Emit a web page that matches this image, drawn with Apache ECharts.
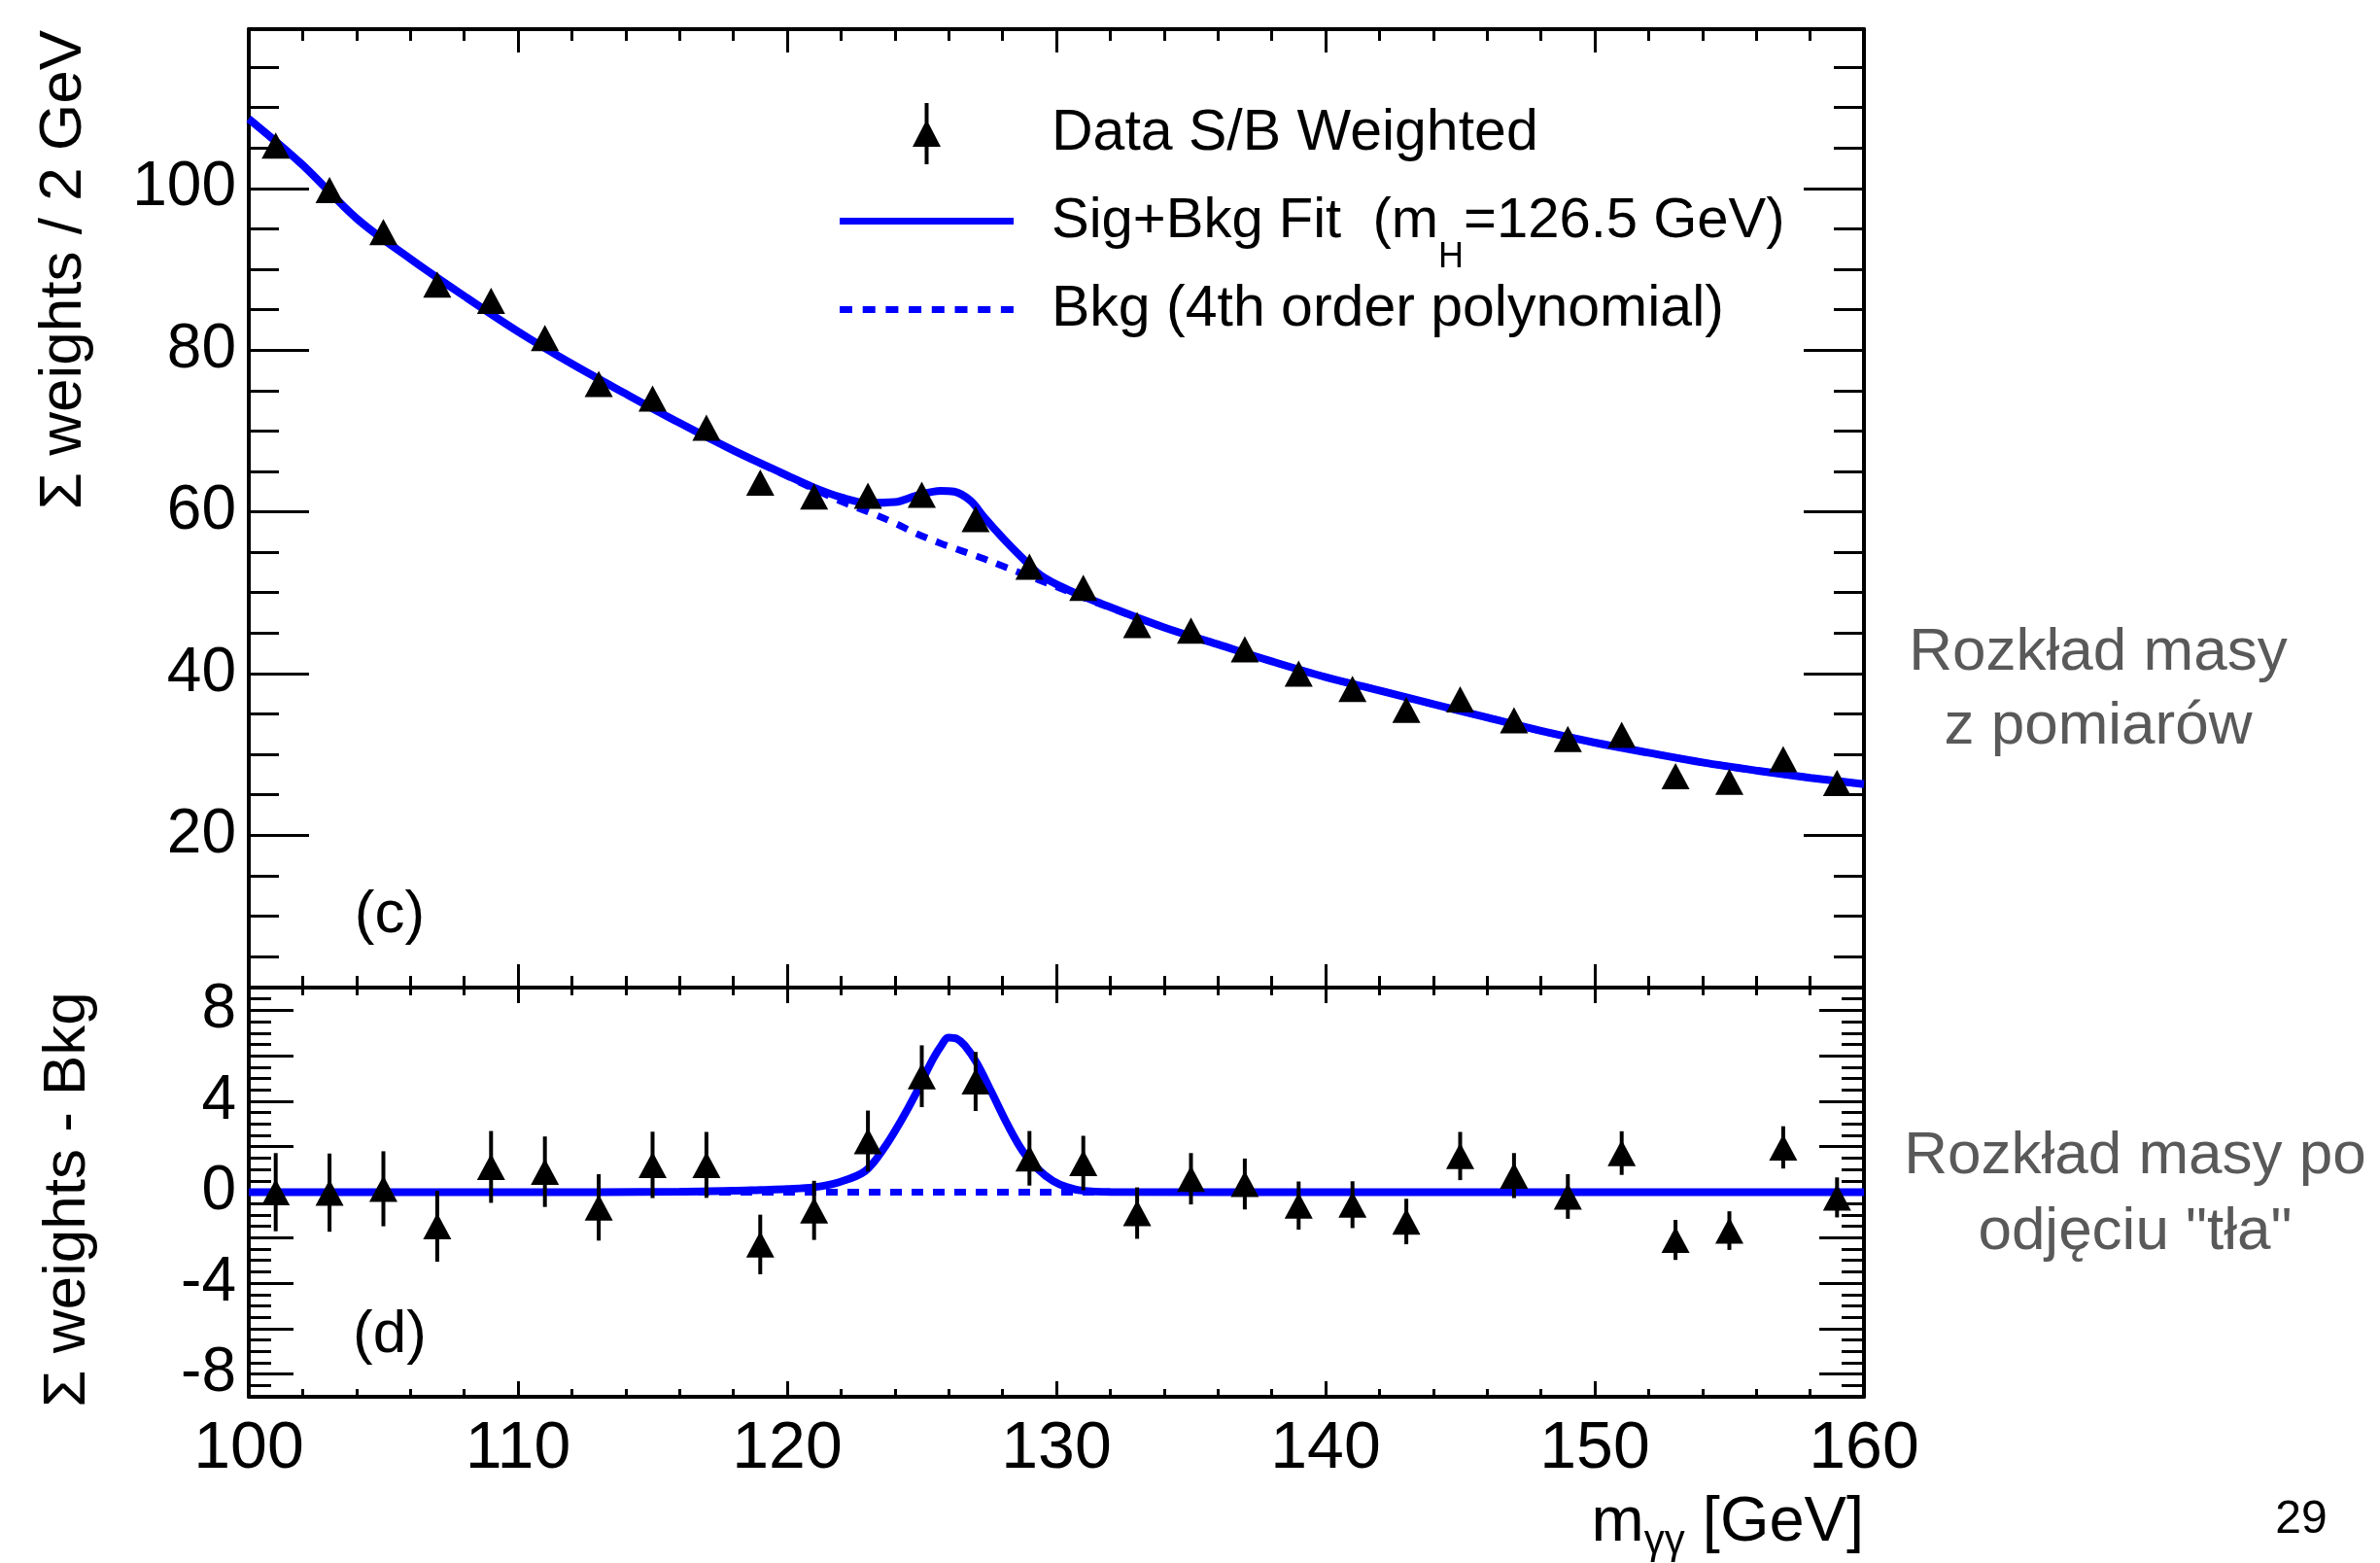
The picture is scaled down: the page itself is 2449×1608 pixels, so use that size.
<!DOCTYPE html>
<html lang="pl">
<head>
<meta charset="utf-8">
<title>m_γγ – Data S/B Weighted</title>
<script src="https://cdn.jsdelivr.net/npm/echarts@6.0.0/dist/echarts.min.js"></script>
<style>
  html, body { margin: 0; padding: 0; background: #fff; }
  #chart { width: 2449px; height: 1608px; }
</style>
</head>
<body>
<div id="chart"></div>
<script>
// bin centres (2 GeV bins)
const massBins = [101, 103, 105, 107, 109, 111, 113, 115, 117, 119, 121, 123, 125, 127, 129,
  131, 133, 135, 137, 139, 141, 143, 145, 147, 149, 151, 153, 155, 157, 159];

// upper panel: S/B weighted data
const weightedData = [105.3, 99.8, 94.6, 88.1, 86.1, 81.5, 75.8, 74.0, 70.4, 63.6, 61.9, 62.0, 62.1, 59.1, 53.2,
  50.6, 46.0, 45.3, 43.0, 40.0, 38.1, 35.5, 36.8, 34.2, 31.9, 32.4, 27.3, 26.6, 29.4, 26.45];

// lower panel: data minus background, with errors
const residualData = [0.0, -0.02, 0.15, -1.5, 1.11, 0.9, -0.67, 1.2, 1.2, -2.3, -0.8, 2.25, 5.1, 4.87, 1.49,
  1.28, -0.92, 0.59, 0.36, -0.59, -0.55, -1.29, 1.59, 0.73, -0.19, 1.72, -2.1, -1.69, 1.97, -0.23];
const residualErr = [1.72, 1.72, 1.65, 1.56, 1.58, 1.55, 1.46, 1.46, 1.45, 1.31, 1.3, 1.34, 1.36, 1.3, 1.2,
  1.2, 1.13, 1.13, 1.12, 1.06, 1.03, 1.0, 1.06, 0.99, 0.98, 0.96, 0.88, 0.85, 0.93, 0.88];

// fit curves
const fitMass = [100, 102, 104, 106, 108, 110, 112, 114, 116, 118, 120, 121, 122, 123, 124, 124.8, 125.7, 126.2,
  126.8, 127.3, 128, 128.7, 129.4, 130.4, 131.7, 134, 136, 138, 140, 142, 144, 146, 148, 150, 152, 154, 156, 158, 160];
const sigBkgFit = [108.6, 102.9, 96.3, 91.3, 86.7, 82.3, 78.3, 74.6, 71.0, 67.6, 64.5, 63.0, 61.8, 61.1, 61.2, 62.0, 62.6, 62.5,
  61.4, 59.4, 56.8, 54.4, 52.2, 50.4, 48.6, 45.7, 43.6, 41.5, 39.55, 37.9, 36.2, 34.55, 32.9, 31.45, 30.2, 29.0, 28.0, 27.1, 26.3];
const bkgFit = [108.6, 102.9, 96.3, 91.3, 86.7, 82.3, 78.3, 74.6, 71.0, 67.6, 64.4, 62.8, 61.3, 60.0, 58.6, 57.3, 56.1, 55.5,
  54.8, 54.2, 53.3, 52.4, 51.5, 50.2, 48.5, 45.7, 43.6, 41.5, 39.55, 37.9, 36.2, 34.55, 32.9, 31.45, 30.2, 29.0, 28.0, 27.1, 26.3];

const sigFitMass = [100, 110, 116, 118, 119, 120, 121, 121.9, 122.9, 123.6, 124.2, 124.8, 125.3, 125.7, 126.0, 126.3,
  126.6, 127.05, 127.6, 128.2, 128.76, 129.33, 129.87, 130.4, 130.95, 132, 140, 160];
const sigFit = [0, 0, 0.02, 0.06, 0.1, 0.14, 0.22, 0.43, 0.93, 1.94, 3.08, 4.38, 5.6, 6.4, 6.8, 6.75,
  6.45, 5.67, 4.38, 2.94, 1.79, 1.0, 0.5, 0.22, 0.07, 0.01, 0, 0];
const zeroMass = [100, 160];
const zeroLine = [0, 0];

const xTicks = [100, 110, 120, 130, 140, 150, 160];

const FONT = "'Liberation Sans', Arial, Helvetica, sans-serif";
const BLUE = '#0000ff';
const GRAY = '#595959';

const pairs = (xs, ys) => xs.map((x, i) => [x, ys[i]]);

const xAxisFor = (gridIndex, position, showLabels, tickLen, minorLen) => ({
  type: 'value',
  gridIndex,
  position,
  min: xTicks[0],
  max: xTicks[xTicks.length - 1],
  interval: 10,
  axisLine: { show: true, onZero: false, lineStyle: { color: '#000', width: 4 } },
  axisTick: { show: true, inside: true, length: tickLen, lineStyle: { color: '#000', width: 3 } },
  minorTick: { show: true, splitNumber: 5, length: minorLen, lineStyle: { color: '#000', width: 3 } },
  axisLabel: {
    show: showLabels, margin: 20, color: '#000', fontSize: 68, fontFamily: FONT
  },
  splitLine: { show: false }
});

const yAxisFor = (gridIndex, position, min, max, splitNumber, labelFn, tickLen, minorLen) => ({
  type: 'value',
  gridIndex,
  position,
  min,
  max,
  splitNumber,
  axisLine: { show: true, onZero: false, lineStyle: { color: '#000', width: 4 } },
  axisTick: { show: true, inside: true, length: tickLen, lineStyle: { color: '#000', width: 3 } },
  minorTick: { show: true, splitNumber: 4, length: minorLen, lineStyle: { color: '#000', width: 3 } },
  axisLabel: {
    show: !!labelFn, margin: 13, color: '#000', fontSize: 64, fontFamily: FONT,
    formatter: labelFn || undefined
  },
  splitLine: { show: false }
});

const upperLabel = (v) => (Math.abs(v % 20) < 1e-6 && v >= 20 && v <= 100 ? String(v) : '');
const lowerLabel = (v) => (Math.abs(v % 4) < 1e-6 ? String(v) : '');

// legend icons, 179 x 63 boxes (corner points keep the box size)
const ICON_BOX = 'M0,0L0,0.01Z M179,63L179,62.99Z ';
const DATA_ICON = 'path://' + ICON_BOX + 'M87.5,0 L91.5,0 L91.5,63 L87.5,63 Z M89.5,17 L104,45 L75,45 Z';
const SOLID_ICON = 'path://' + ICON_BOX + 'M0,28 L179,28 L179,35 L0,35 Z';
let dashPath = ICON_BOX;
for (let x = 0; x < 179; x += 23.7) {
  const x2 = Math.min(x + 13, 179);
  dashPath += `M${x},28 L${x2},28 L${x2},35 L${x},35 Z `;
}
const DASH_ICON = 'path://' + dashPath;

const legendText = { fontFamily: FONT, fontSize: 59, color: '#000', padding: [0, 0, 0, 34] };
const legendBase = {
  left: 864, padding: 0, orient: 'vertical', selectedMode: false,
  itemWidth: 179, itemHeight: 63,
  itemStyle: { borderWidth: 0, opacity: 1 }
};

const chart = echarts.init(document.getElementById('chart'), null, { renderer: 'canvas' });

const option = {
  animation: false,
  backgroundColor: '#fff',
  grid: [
    { left: 256, top: 30, width: 1662, height: 986, outerBoundsMode: 'none' },
    { left: 256, top: 1016, width: 1662, height: 421, outerBoundsMode: 'none' }
  ],
  xAxis: [
    xAxisFor(0, 'bottom', false, 24, 12),
    xAxisFor(0, 'top', false, 24, 12),
    xAxisFor(1, 'bottom', true, 16, 8),
    xAxisFor(1, 'top', false, 16, 8)
  ],
  yAxis: [
    yAxisFor(0, 'left', 1.15, 119.7, 6, upperLabel, 62, 31),
    yAxisFor(0, 'right', 1.15, 119.7, 6, null, 62, 31),
    yAxisFor(1, 'left', -9, 9, 9, lowerLabel, 46, 23),
    yAxisFor(1, 'right', -9, 9, 9, null, 46, 23)
  ],
  legend: [
    Object.assign({}, legendBase, {
      top: 106,
      data: [{ name: 'Data S/B Weighted', icon: DATA_ICON }],
      textStyle: legendText
    }),
    Object.assign({}, legendBase, {
      top: 196,
      data: [{ name: 'Sig+Bkg Fit', icon: SOLID_ICON }],
      formatter: () => '{t|Sig+Bkg Fit  (m}{s|H}{t|=126.5 GeV)}',
      textStyle: Object.assign({}, legendText, {
        rich: {
          t: { fontFamily: FONT, fontSize: 58, color: '#000' },
          s: { fontFamily: FONT, fontSize: 36, color: '#000', padding: [75, 0, 0, 0] }
        }
      })
    }),
    Object.assign({}, legendBase, {
      top: 287,
      data: [{ name: 'Bkg', icon: DASH_ICON }],
      formatter: () => 'Bkg (4th order polynomial)',
      textStyle: legendText
    })
  ],
  graphic: [
    {
      type: 'text', x: 66, y: 31, rotation: Math.PI / 2,
      style: {
        text: 'Σ weights / 2 GeV', fontFamily: FONT, fontSize: 62, fill: '#000',
        align: 'right', verticalAlign: 'middle', textAlign: 'right', textVerticalAlign: 'middle'
      }
    },
    {
      type: 'text', x: 70, y: 1234, rotation: Math.PI / 2,
      style: {
        text: 'Σ weights - Bkg', fontFamily: FONT, fontSize: 62, fill: '#000',
        align: 'center', verticalAlign: 'middle', textAlign: 'center', textVerticalAlign: 'middle'
      }
    },
    {
      type: 'text', x: 1918, y: 1567,
      style: {
        text: '{m|m}{s|γγ}{m| [GeV]}', fill: '#000',
        align: 'right', verticalAlign: 'middle', textAlign: 'right', textVerticalAlign: 'middle',
        rich: {
          m: { fontFamily: FONT, fontSize: 65, fill: '#000' },
          s: { fontFamily: FONT, fontSize: 42, fill: '#000', padding: [38, 0, 0, 0] }
        }
      }
    },
    {
      type: 'text', x: 401, y: 942,
      style: { text: '(c)', fontFamily: FONT, fontSize: 62, fill: '#000', align: 'center', verticalAlign: 'middle', textAlign: 'center', textVerticalAlign: 'middle' }
    },
    {
      type: 'text', x: 401, y: 1374,
      style: { text: '(d)', fontFamily: FONT, fontSize: 62, fill: '#000', align: 'center', verticalAlign: 'middle', textAlign: 'center', textVerticalAlign: 'middle' }
    },
    {
      type: 'text', x: 2159, y: 710,
      style: {
        text: 'Rozkład masy\nz pomiarów', fontFamily: FONT, fontSize: 62, lineHeight: 76, fill: GRAY,
        align: 'center', verticalAlign: 'middle', textAlign: 'center', textVerticalAlign: 'middle'
      }
    },
    {
      type: 'text', x: 2197, y: 1229,
      style: {
        text: 'Rozkład masy po\nodjęciu "tła"', fontFamily: FONT, fontSize: 62, lineHeight: 78, fill: GRAY,
        align: 'center', verticalAlign: 'middle', textAlign: 'center', textVerticalAlign: 'middle'
      }
    },
    {
      type: 'text', x: 2368, y: 1564,
      style: { text: '29', fontFamily: FONT, fontSize: 48, fill: '#000', align: 'center', verticalAlign: 'middle', textAlign: 'center', textVerticalAlign: 'middle' }
    }
  ],
  series: [
    {
      name: 'Bkg', type: 'line', xAxisIndex: 0, yAxisIndex: 0,
      data: pairs(fitMass, bkgFit), showSymbol: false, symbol: 'none', smooth: 0.35,
      lineStyle: { color: BLUE, width: 7, type: [12, 10] }, itemStyle: { color: BLUE }, z: 2
    },
    {
      name: 'Sig+Bkg Fit', type: 'line', xAxisIndex: 0, yAxisIndex: 0,
      data: pairs(fitMass, sigBkgFit), showSymbol: false, symbol: 'none', smooth: 0.35,
      lineStyle: { color: BLUE, width: 8 }, itemStyle: { color: BLUE }, z: 3
    },
    {
      name: 'Data S/B Weighted', type: 'scatter', xAxisIndex: 0, yAxisIndex: 0,
      data: pairs(massBins, weightedData), symbol: 'triangle', symbolSize: [29, 27],
      itemStyle: { color: '#000', opacity: 1 }, z: 5
    },
    {
      name: 'Bkg (residual)', type: 'line', xAxisIndex: 2, yAxisIndex: 2,
      data: pairs(zeroMass, zeroLine), showSymbol: false, symbol: 'none',
      lineStyle: { color: BLUE, width: 7, type: [12, 10] }, z: 2
    },
    {
      name: 'Signal fit', type: 'line', xAxisIndex: 2, yAxisIndex: 2,
      data: pairs(sigFitMass, sigFit), showSymbol: false, symbol: 'none', smooth: 0.35,
      lineStyle: { color: BLUE, width: 8 }, z: 3
    },
    {
      name: 'Residual errors', type: 'custom', xAxisIndex: 2, yAxisIndex: 2,
      data: massBins.map((m, i) => [m, residualData[i] - residualErr[i], residualData[i] + residualErr[i]]),
      encode: { x: 0, y: [1, 2] },
      renderItem: (params, api) => {
        const lo = api.coord([api.value(0), api.value(1)]);
        const hi = api.coord([api.value(0), api.value(2)]);
        return {
          type: 'line',
          shape: { x1: lo[0], y1: lo[1], x2: hi[0], y2: hi[1] },
          style: { stroke: '#000', lineWidth: 4 }
        };
      },
      z: 4
    },
    {
      name: 'Data - Bkg', type: 'scatter', xAxisIndex: 2, yAxisIndex: 2,
      data: pairs(massBins, residualData), symbol: 'triangle', symbolSize: [29, 27],
      itemStyle: { color: '#000', opacity: 1 }, z: 5
    }
  ]
};

chart.setOption(option);
window.addEventListener('resize', () => chart.resize());
</script>
</body>
</html>
